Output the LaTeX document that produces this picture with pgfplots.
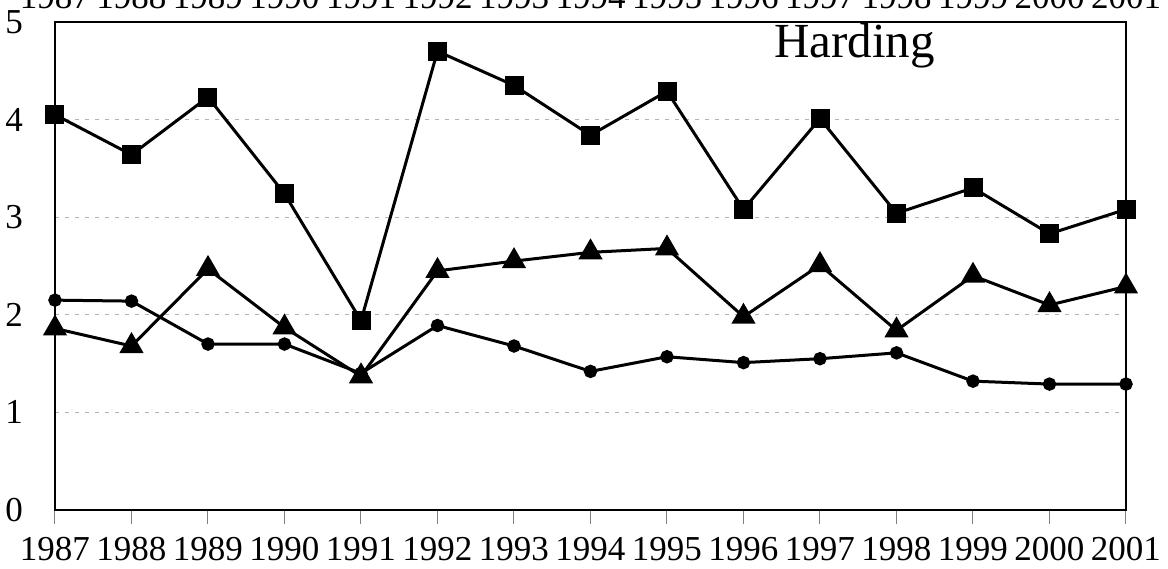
\documentclass[border=0pt]{standalone}
\usepackage{fontspec}
\setmainfont{Liberation Serif}
\usepackage{pgfplots}
\pgfplotsset{compat=1.18}
\begin{document}
\begin{tikzpicture}
\begin{axis}[
  scale only axis,
  width=535.5pt, height=244pt,
  xmin=1987, xmax=2001, ymin=0, ymax=5,
  xtick={1987,...,2001},
  ytick={0,1,2,3,4,5},
  xticklabel style={/pgf/number format/1000 sep=},
  /pgf/number format/assume math mode=true,
  tick label style={font=\fontsize{17.5}{17.5}\selectfont},
  xtick pos=bottom, ytick pos=left,
  tick align=outside,
  major tick length=7pt,
  x tick style={gray, line width=0.5pt},
  y tick style={draw=none},
  yticklabel style={xshift=-5.5pt},
  xticklabel style={yshift=-3pt},
  ymajorgrids,
  grid style={gray!60, dash pattern=on 2pt off 3pt, line width=0.5pt},
  axis line style={line width=1.3pt},
  clip=false,
]
\addplot[black, line width=1.5pt, mark=square*, mark size=4pt] coordinates {
(1987,4.05) (1988,3.64) (1989,4.23) (1990,3.24) (1991,1.94) (1992,4.70) (1993,4.35) (1994,3.84) (1995,4.29) (1996,3.08) (1997,4.01) (1998,3.04) (1999,3.30) (2000,2.83) (2001,3.08)};
\addplot[black, line width=1.5pt, mark=triangle*, mark size=5.5pt] coordinates {
(1987,1.86) (1988,1.68) (1989,2.47) (1990,1.87) (1991,1.37) (1992,2.45) (1993,2.55) (1994,2.64) (1995,2.68) (1996,1.98) (1997,2.51) (1998,1.84) (1999,2.40) (2000,2.10) (2001,2.29)};
\addplot[black, line width=1.5pt, mark=*, mark size=2.6pt] coordinates {
(1987,2.15) (1988,2.14) (1989,1.70) (1990,1.70) (1991,1.40) (1992,1.89) (1993,1.68) (1994,1.42) (1995,1.57) (1996,1.51) (1997,1.55) (1998,1.61) (1999,1.32) (2000,1.29) (2001,1.29)};
\node[font=\fontsize{24.5}{24.5}\selectfont] at (axis cs:1997.45,4.76) {Harding};
\pgfplotsinvokeforeach{1987,...,2001}{
  \node[anchor=base, inner sep=0pt, font=\fontsize{17.5}{17.5}\selectfont] at ([yshift=6.5pt]axis cs:#1,5) {#1};
}
\end{axis}
\pgfresetboundingbox
\useasboundingbox ([shift={(-27.5pt,-29.5pt)}]current axis.south west) rectangle ([shift={(21pt,11pt)}]current axis.north east);
\end{tikzpicture}
\end{document}
